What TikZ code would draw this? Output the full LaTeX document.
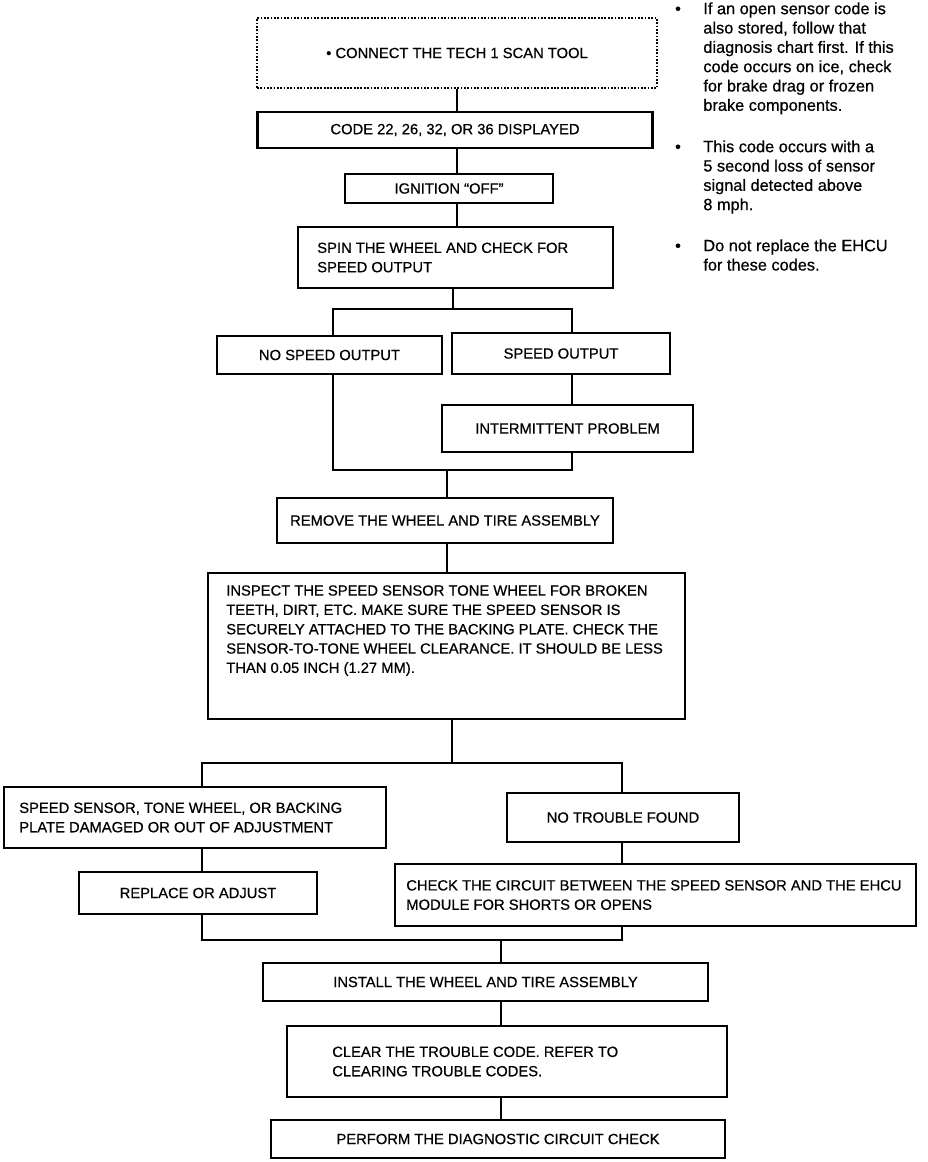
\documentclass[tikz,border=0pt]{standalone}
\usepackage{fontspec}
\setmainfont{Liberation Sans}
\newfontfamily\flowfont{Liberation Sans}[FakeBold=0.6]
\usetikzlibrary{positioning}

\begin{document}
\begin{tikzpicture}[x=0.02cm, y=-0.02cm,
  box/.style={draw, line width=1.2pt, inner sep=0pt, font=\flowfont\fontsize{8.4}{11}\selectfont},
  dotbox/.style={box, line width=0.8pt, dash pattern=on 1pt off 0.9pt},
  wh/.style 2 args={minimum width=#1*0.02cm, minimum height=#2*0.02cm},
  txt/.style={inner sep=0pt, align=left, font=\flowfont\fontsize{8.4}{11}\selectfont},
  note/.style={inner sep=0pt, align=left, anchor=north west, font=\flowfont\fontsize{9.3}{11}\selectfont},
  link/.style={line width=1.2pt}]
  \useasboundingbox (0,0) rectangle (928,1162);

  \node[dotbox, wh={400}{70}] (scan) at (457,53) {• CONNECT THE TECH 1 SCAN TOOL};
  \node[box, wh={395}{36}] (code) at (455,130) {CODE 22, 26, 32, OR 36 DISPLAYED};
  \node[box, wh={208}{29}] (ign) at (449,188.5) {IGNITION “OFF”};
  \node[box, wh={315}{61}] (spin) at (455.5,257.5) {};
  \node[txt, right=0.4cm of spin.west] (spin-t) {SPIN THE WHEEL AND CHECK FOR\\SPEED OUTPUT};
  \node[box, wh={225}{38}] (nospd) at (329.5,355) {NO SPEED OUTPUT};
  \node[box, wh={218}{41}] (spd) at (561,353.5) {SPEED OUTPUT};
  \node[box, wh={251}{47}] (inter) at (567.5,428.5) {INTERMITTENT PROBLEM};
  \node[box, wh={336}{45}] (remove) at (445,520.5) {REMOVE THE WHEEL AND TIRE ASSEMBLY};
  \node[box, wh={477}{146}] (insp) at (446.5,646) {};
  \node[txt, below right=0.26cm and 0.38cm of insp.north west] (insp-t) {INSPECT THE SPEED SENSOR TONE WHEEL FOR BROKEN\\TEETH, DIRT, ETC. MAKE SURE THE SPEED SENSOR IS\\SECURELY ATTACHED TO THE BACKING PLATE. CHECK THE\\SENSOR-TO-TONE WHEEL CLEARANCE. IT SHOULD BE LESS\\THAN 0.05 INCH (1.27 MM).};
  \node[box, wh={382}{61}] (dmg) at (195,817.5) {};
  \node[txt, right=0.32cm of dmg.west] (dmg-t) {SPEED SENSOR, TONE WHEEL, OR BACKING\\PLATE DAMAGED OR OUT OF ADJUSTMENT};
  \node[box, wh={232}{49}] (ntf) at (623,817.5) {NO TROUBLE FOUND};
  \node[box, wh={238}{42}] (repl) at (198,893) {REPLACE OR ADJUST};
  \node[box, wh={521}{62}] (circ) at (655.5,895) {};
  \node[txt, right=0.24cm of circ.west] (circ-t) {CHECK THE CIRCUIT BETWEEN THE SPEED SENSOR AND THE EHCU\\MODULE FOR SHORTS OR OPENS};
  \node[box, wh={445}{38}] (inst) at (485.5,982) {INSTALL THE WHEEL AND TIRE ASSEMBLY};
  \node[box, wh={440}{71}] (clr) at (507,1061.5) {};
  \node[txt, right=0.92cm of clr.west] (clr-t) {CLEAR THE TROUBLE CODE. REFER TO\\CLEARING TROUBLE CODES.};
  \node[box, wh={454}{38}] (perf) at (498,1139) {PERFORM THE DIAGNOSTIC CIRCUIT CHECK};

  \node[note] (n1) at (703,2) {\leavevmode\llap{•\hspace{0.45cm}}If an open sensor code is\\also stored, follow that\\diagnosis chart first. If this\\code occurs on ice, check\\for brake drag or frozen\\brake components.};
  \node[note] (n2) at (703,140) {\leavevmode\llap{•\hspace{0.45cm}}This code occurs with a\\5 second loss of sensor\\signal detected above\\8 mph.};
  \node[note] (n3) at (703,239) {\leavevmode\llap{•\hspace{0.45cm}}Do not replace the EHCU\\for these codes.};

  \draw[link] (scan.south) -- (scan.south |- code.north);
  \draw[link] (code.south -| scan.south) -- (scan.south |- ign.north);
  \draw[link] (ign.south -| scan.south) -- (scan.south |- spin.north);

  \coordinate (s1) at (453,309);
  \coordinate (s1l) at (333,309);
  \coordinate (s1r) at (572,309);
  \draw[link] (spin.south -| s1) -- (s1);
  \draw[link] (s1l |- nospd.north) -- (s1l) -- (s1r) -- (s1r |- spd.north);
  \draw[link] (s1r |- spd.south) -- (s1r |- inter.north);
  \coordinate (m1) at (447,470);
  \coordinate (m1l) at (333,470);
  \coordinate (m1r) at (572,470);
  \draw[link] (s1l |- nospd.south) -- (m1l) -- (m1r) -- (s1r |- inter.south);
  \draw[link] (m1) -- (m1 |- remove.north);
  \draw[link] (remove.south -| m1) -- (m1 |- insp.north);

  \coordinate (s2) at (452,763);
  \coordinate (s2l) at (202,763);
  \coordinate (s2r) at (622,763);
  \draw[link] (insp.south -| s2) -- (s2);
  \draw[link] (s2l |- dmg.north) -- (s2l) -- (s2r) -- (s2r |- ntf.north);
  \draw[link] (s2l |- dmg.south) -- (s2l |- repl.north);
  \draw[link] (s2r |- ntf.south) -- (s2r |- circ.north);
  \coordinate (m2) at (501,940);
  \coordinate (m2l) at (202,940);
  \coordinate (m2r) at (622,940);
  \draw[link] (s2l |- repl.south) -- (m2l) -- (m2r) -- (s2r |- circ.south);
  \draw[link] (m2) -- (m2 |- inst.north);
  \draw[link] (inst.south -| m2) -- (m2 |- clr.north);
  \draw[link] (clr.south -| m2) -- (m2 |- perf.north);
\end{tikzpicture}
\end{document}
